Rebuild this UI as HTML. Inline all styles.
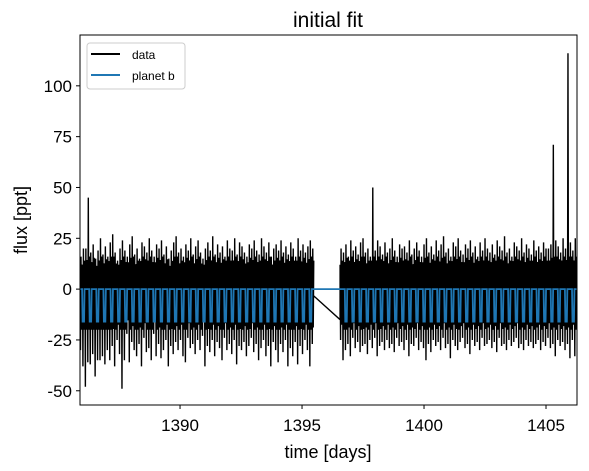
<!DOCTYPE html>
<html><head><meta charset="utf-8"><style>
body{margin:0;background:#fff;}
svg{display:block;font-family:"Liberation Sans","DejaVu Sans",sans-serif;}
</style></head><body>
<svg id="chart" width="589" height="471" viewBox="0 0 589 471">
<text x="328" y="27" font-size="21" text-anchor="middle">initial fit</text>
<defs><clipPath id="clip"><rect x="80" y="35" width="497" height="370"/></clipPath></defs>
<g id="plot" clip-path="url(#clip)"></g>
<rect x="80" y="35" width="497" height="370" fill="none" stroke="#000" stroke-width="1"/>
<g id="xt"></g>
<g id="yt"></g>
<text x="328" y="458" font-size="18" text-anchor="middle">time [days]</text>
<text transform="translate(27,220) rotate(-90)" font-size="18" text-anchor="middle">flux [ppt]</text>
<g>
<rect x="87" y="43" width="98" height="46" rx="3" fill="#fff" stroke="#ccc"/>
<line x1="91" y1="54" x2="120" y2="54" stroke="#000" stroke-width="2"/>
<text x="132" y="59" font-size="12">data</text>
<line x1="91" y1="75" x2="120" y2="75" stroke="#1f77b4" stroke-width="2"/>
<text x="132" y="80" font-size="12">planet b</text>
</g>
</svg>
<script>
const xTicks=[1390,1395,1400,1405];
const yTicks=[-50,-25,0,25,50,75,100];
const leftStart=1385.9, rightStart=1396.56, binDays=0.1;
const leftHi=[16,20,20,45,18,22,15,19,25,17,21,16,23,27,18,14,20,24,19,16,22,26,17,20,15,23,21,18,25,19,16,22,20,24,17,21,15,19,23,26,18,20,16,22,19,25,17,21,24,18,15,20,23,19,26,17,22,18,21,16,24,20,19,25,17,23,21,18,16,22,20,24,19,17,25,21,18,23,16,20,22,19,24,18,21,17,23,20,16,25,19,22,18,21,24,20];
const leftLo=[-30,-38,-48,-36,-37,-32,-43,-35,-35,-33,-37,-30,-35,-28,-38,-25,-32,-49,-35,-22,-36,-26,-30,-33,-27,-38,-24,-31,-29,-35,-22,-33,-27,-34,-30,-25,-38,-28,-32,-26,-30,-25,-33,-36,-24,-29,-27,-32,-25,-30,-23,-38,-28,-31,-25,-33,-26,-29,-35,-24,-30,-27,-32,-25,-37,-28,-30,-26,-33,-28,-24,-31,-27,-35,-29,-25,-33,-28,-38,-26,-30,-36,-27,-31,-25,-38,-29,-33,-26,-37,-28,-32,-25,-30,-38,-27];
const rightHi=[20,18,22,16,24,19,21,17,23,25,18,20,16,50,19,24,21,17,23,18,20,25,19,16,22,20,21,18,24,17,20,23,19,16,22,25,18,21,17,24,19,22,26,18,20,16,23,21,25,19,17,22,20,24,18,21,16,23,19,25,20,18,22,17,24,21,19,26,18,20,16,23,21,19,25,18,22,20,17,24,19,21,18,23,20,20,22,71,24,21,18,25,20,116,23,19,25];
const rightLo=[-25,-35,-30,-27,-33,-24,-29,-26,-31,-28,-27,-32,-25,-29,-24,-33,-28,-26,-30,-25,-29,-27,-31,-24,-28,-26,-30,-25,-33,-27,-28,-24,-30,-26,-29,-35,-27,-31,-25,-28,-26,-30,-24,-29,-27,-34,-25,-28,-30,-26,-24,-29,-27,-32,-25,-28,-26,-30,-24,-28,-27,-25,-29,-26,-31,-24,-28,-27,-30,-25,-28,-26,-24,-29,-27,-30,-25,-28,-26,-29,-27,-25,-30,-26,-28,-24,-29,-27,-33,-25,-28,-26,-30,-27,-34,-25,-33];
const gapFlux=[-3,-15];
const planetPeriod=0.291, planetT0=1390.11, planetDepth=-16, planetDur=0.05;
const xMin=1385.9, xMax=1406.27, yMin=-57, yMax=125;
const X=t=>80+(t-xMin)/(xMax-xMin)*497;
const Y=v=>405-(v-yMin)/(yMax-yMin)*370;
const NS='http://www.w3.org/2000/svg';
const plot=document.getElementById('plot');
function mk(tag,attrs,parent){const e=document.createElementNS(NS,tag);for(const k in attrs)e.setAttribute(k,attrs[k]);parent.appendChild(e);return e;}
const leftEnd=leftStart+leftHi.length*binDays-0.05;
const pts=[];
function seg(start,hi,lo){
  for(let i=0;i<hi.length;i++){
    const t=start+i*binDays;
    const a=Math.min(hi[i]*0.6,14), b=Math.min(hi[i]*0.7,16), c=Math.max(lo[i]*0.7,-20);
    const f=[[0,a],[0.02,lo[i]],[0.04,hi[i]],[0.06,c],[0.08,b]];
    f.forEach(p=>pts.push([t+p[0],p[1]]));
  }
}
seg(leftStart,leftHi,leftLo);
pts.push([leftEnd,gapFlux[0]]);
pts.push([rightStart,gapFlux[1]]);
seg(rightStart,rightHi,rightLo);
const dataLine=mk('polyline',{points:pts.map(p=>X(p[0]).toFixed(2)+','+Y(p[1]).toFixed(2)).join(' '),fill:'none',stroke:'#000','stroke-width':1.4},plot);


const mp=[[xMin-0.1,0]];
let k=Math.ceil((xMin-planetT0)/planetPeriod);
for(;planetT0+k*planetPeriod<xMax+0.2;k++){
  const tc=planetT0+k*planetPeriod;
  if(!(tc<=leftEnd||tc>=rightStart))continue;
  mp.push([tc-planetDur,0],[tc-planetDur*0.6,planetDepth],[tc+planetDur*0.6,planetDepth],[tc+planetDur,0]);
}
mp.push([xMax+0.2,0]);
const model=mk('polyline',{points:mp.map(p=>X(p[0]).toFixed(2)+','+Y(p[1]).toFixed(2)).join(' '),fill:'none',stroke:'#1f77b4','stroke-width':1.8},plot);


const xt=document.getElementById('xt'), yt=document.getElementById('yt');
xTicks.forEach(v=>{
  const l=mk('line',{x1:X(v),x2:X(v),y1:405,y2:409,stroke:'#000'},xt);
  
  
  const t=mk('text',{x:X(v),y:431,'font-size':17,'text-anchor':'middle'},xt);
  t.textContent=v;
  
  
});
yTicks.forEach(v=>{
  const l=mk('line',{x1:76,x2:80,y1:Y(v),y2:Y(v),stroke:'#000'},yt);
  
  
  const t=mk('text',{x:72,y:Y(v)+6,'font-size':17,'text-anchor':'end'},yt);
  t.textContent=v;
  
  
});
</script>
</body></html>
